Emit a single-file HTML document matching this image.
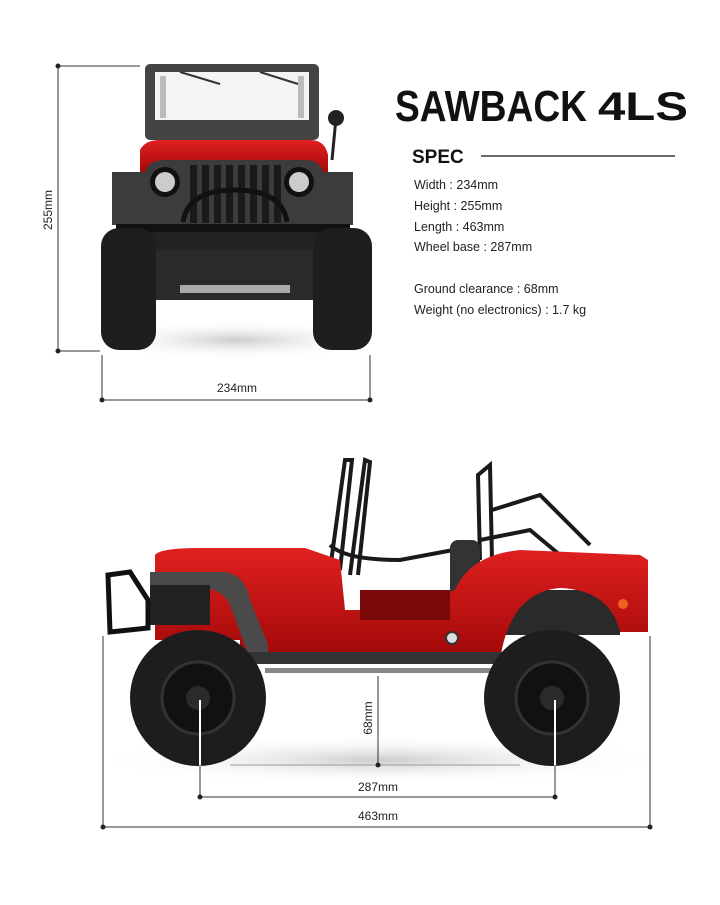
<!DOCTYPE html>
<html><head><meta charset="utf-8"><style>
body{margin:0;background:#fff;width:720px;height:900px;overflow:hidden;font-family:"Liberation Sans",sans-serif}
</style></head><body>
<svg width="720" height="900" viewBox="0 0 720 900" xmlns="http://www.w3.org/2000/svg" font-family="Liberation Sans, sans-serif">
<defs>
<radialGradient id="sh" cx="0.5" cy="0.5" r="0.5"><stop offset="0" stop-color="#ccc"/><stop offset="1" stop-color="#fff" stop-opacity="0"/></radialGradient>
<linearGradient id="red" x1="0" y1="0" x2="0" y2="1"><stop offset="0" stop-color="#e02020"/><stop offset="1" stop-color="#a00808"/></linearGradient>
</defs>
<!-- FRONT VIEW dimensions -->
<g stroke="#333" stroke-width="1">
<line x1="58" y1="66" x2="58" y2="351"/><line x1="58" y1="66" x2="140" y2="66"/><line x1="58" y1="351" x2="100" y2="351"/>
<line x1="102" y1="355" x2="102" y2="402"/><line x1="370" y1="355" x2="370" y2="402"/><line x1="102" y1="400" x2="370" y2="400"/>
</g>
<g fill="#222"><circle cx="58" cy="66" r="2.5"/><circle cx="58" cy="351" r="2.5"/><circle cx="102" cy="400" r="2.5"/><circle cx="370" cy="400" r="2.5"/></g>
<text x="52" y="210" font-size="12" fill="#222" text-anchor="middle" transform="rotate(-90 52 210)">255mm</text>
<text x="237" y="392" font-size="12" fill="#222" text-anchor="middle">234mm</text>
<!-- FRONT JEEP -->
<ellipse cx="237" cy="340" rx="150" ry="20" fill="url(#sh)"/>
<rect x="145" y="64" width="174" height="76" rx="5" fill="#444"/>
<rect x="155" y="72" width="154" height="48" fill="#f4f4f4"/>
<rect x="160" y="76" width="6" height="42" fill="#bbb"/><rect x="298" y="76" width="6" height="42" fill="#bbb"/>
<line x1="180" y1="72" x2="220" y2="84" stroke="#333" stroke-width="2"/><line x1="260" y1="72" x2="298" y2="84" stroke="#333" stroke-width="2"/>
<line x1="336" y1="118" x2="332" y2="160" stroke="#222" stroke-width="3"/><circle cx="336" cy="118" r="8" fill="#222"/>
<path d="M140 150 Q145 140 160 140 L310 140 Q325 140 328 155 L328 175 L140 175 Z" fill="url(#red)"/>
<path d="M112 172 L145 172 Q148 160 165 160 L305 160 Q320 160 323 172 L353 172 L353 225 L112 225 Z" fill="#3c3c3c"/>
<g fill="#1a1a1a"><rect x="190" y="165" width="7" height="58"/><rect x="202" y="165" width="7" height="58"/><rect x="214" y="165" width="7" height="58"/><rect x="226" y="165" width="7" height="58"/><rect x="238" y="165" width="7" height="58"/><rect x="250" y="165" width="7" height="58"/><rect x="262" y="165" width="7" height="58"/><rect x="274" y="165" width="7" height="58"/></g>
<circle cx="165" cy="182" r="15" fill="#111"/><circle cx="165" cy="182" r="10" fill="#ccc"/>
<circle cx="299" cy="182" r="15" fill="#111"/><circle cx="299" cy="182" r="10" fill="#ccc"/>
<path d="M183 222 Q188 190 235 190 Q282 190 287 222" fill="none" stroke="#111" stroke-width="5"/>
<rect x="116" y="224" width="234" height="8" fill="#111"/>
<path d="M130 232 L160 255 L310 255 L340 232" fill="#222"/>
<rect x="150" y="250" width="165" height="50" fill="#2a2a2a"/>
<rect x="180" y="285" width="110" height="8" fill="#aaa"/>
<rect x="101" y="228" width="55" height="122" rx="18" fill="#1e1e1e"/>
<rect x="313" y="228" width="59" height="122" rx="18" fill="#1e1e1e"/>
<!-- LOGO & SPEC -->
<text x="395" y="121" font-size="44" font-weight="bold" fill="#111" textLength="192" lengthAdjust="spacingAndGlyphs">SAWBACK</text>
<text x="598" y="120" font-size="40" font-weight="bold" fill="#111" textLength="90" lengthAdjust="spacingAndGlyphs">4LS</text>
<text x="412" y="163" font-size="19" font-weight="bold" fill="#111">SPEC</text>
<line x1="481" y1="156" x2="675" y2="156" stroke="#111" stroke-width="1.3"/>
<g font-size="12.5" fill="#222">
<text x="414" y="189">Width : 234mm</text>
<text x="414" y="210">Height : 255mm</text>
<text x="414" y="231">Length : 463mm</text>
<text x="414" y="251">Wheel base : 287mm</text>
<text x="414" y="293">Ground clearance : 68mm</text>
<text x="414" y="314">Weight (no electronics) : 1.7 kg</text>
</g>
<!-- SIDE JEEP -->
<ellipse cx="380" cy="760" rx="290" ry="25" fill="url(#sh)"/>
<g fill="none" stroke="#1a1a1a" stroke-width="4">
<path d="M330 570 L345 460 L352 460 L340 570"/><path d="M350 575 L365 460 L370 462 L358 575"/>
<path d="M480 560 L478 475 L490 465 L492 560"/><path d="M492 510 L540 495 L590 545"/><path d="M480 540 L530 530 L560 555"/>
<path d="M330 545 Q345 560 400 560 L480 545"/>
</g>
<rect x="450" y="540" width="30" height="60" rx="8" fill="#333"/>
<rect x="500" y="590" width="120" height="45" fill="#2a2a2a"/>
<path d="M155 555 Q160 548 200 548 L305 548 L340 560 L345 610 L400 610 L455 590 Q470 555 520 550 L640 555 L648 560 L648 632 L620 632 Q610 590 560 588 Q510 592 500 660 L240 660 L240 640 L155 640 Z" fill="url(#red)"/>
<rect x="360" y="590" width="90" height="30" fill="#7a0a0a"/>
<path d="M150 572 L225 572 Q245 575 250 600 L268 645 L268 660 L250 660 L232 610 Q225 588 200 588 L150 588 Z" fill="#4a4a4a"/>
<rect x="150" y="585" width="60" height="40" fill="#222"/>
<path d="M108 575 L130 572 L148 600 L148 628 L110 632 Z" fill="none" stroke="#111" stroke-width="5"/>
<rect x="240" y="652" width="270" height="12" fill="#333"/>
<rect x="265" y="668" width="230" height="5" fill="#888"/>
<circle cx="452" cy="638" r="6" fill="#ddd" stroke="#333" stroke-width="2"/>
<circle cx="623" cy="604" r="5" fill="#f06020"/>
<circle cx="198" cy="698" r="68" fill="#1d1d1d"/><circle cx="198" cy="698" r="36" fill="#111" stroke="#333" stroke-width="3"/><circle cx="198" cy="698" r="12" fill="#2a2a2a"/>
<circle cx="552" cy="698" r="68" fill="#1d1d1d"/><circle cx="552" cy="698" r="36" fill="#111" stroke="#333" stroke-width="3"/><circle cx="552" cy="698" r="12" fill="#2a2a2a"/>
<!-- SIDE dims -->
<g stroke="#333" stroke-width="1">
<line x1="103" y1="636" x2="103" y2="828"/><line x1="650" y1="636" x2="650" y2="828"/><line x1="103" y1="827" x2="650" y2="827"/>
<line x1="200" y1="700" x2="200" y2="798" stroke="#fff" stroke-width="2"/><line x1="555" y1="700" x2="555" y2="798" stroke="#fff" stroke-width="2"/>
<line x1="200" y1="765" x2="200" y2="798"/><line x1="555" y1="765" x2="555" y2="798"/>
<line x1="200" y1="797" x2="555" y2="797"/>
<line x1="378" y1="676" x2="378" y2="765"/><line x1="230" y1="765" x2="520" y2="765" stroke="#999"/>
</g>
<g fill="#222"><circle cx="103" cy="827" r="2.5"/><circle cx="650" cy="827" r="2.5"/><circle cx="200" cy="797" r="2.5"/><circle cx="555" cy="797" r="2.5"/><circle cx="378" cy="765" r="2.5"/></g>
<text x="372" y="718" font-size="12" fill="#222" text-anchor="middle" transform="rotate(-90 372 718)">68mm</text>
<text x="378" y="791" font-size="12" fill="#222" text-anchor="middle">287mm</text>
<text x="378" y="820" font-size="12" fill="#222" text-anchor="middle">463mm</text>
</svg>
</body></html>
